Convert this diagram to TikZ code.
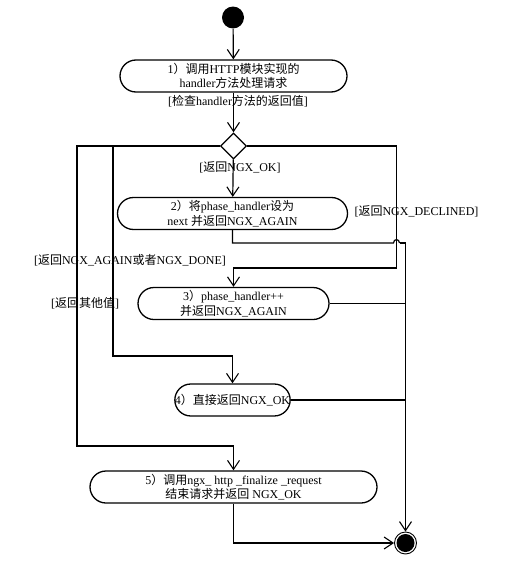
\documentclass[tikz,border=0pt]{standalone}
\usepackage{fontspec}
\setmainfont{Liberation Serif}
\newfontfamily\cjk{Noto Sans CJK SC}
\newcommand\zh[1]{{\cjk #1}}
\usetikzlibrary{arrows.meta,shapes.geometric}
\tikzset{
  act/.style={draw, line width=1.3pt, rectangle, rounded corners=16pt, minimum height=32pt, inner sep=0pt, align=center, font=\fontsize{12}{14.5}\selectfont},
  lbl/.style={inner sep=0pt, font=\fontsize{12}{14}\selectfont},
  arr/.style={-{Straight Barb[length=9pt,width=12pt,line width=1.1pt]}},
  ln/.style={line width=1.2pt},
}
\begin{document}
\begin{tikzpicture}[x=1pt,y=-1pt, ln]
\useasboundingbox[fill=white] (0,0) rectangle (515,570);
% nodes
\node[circle, fill=black, minimum size=22pt, inner sep=0pt] (start) at (233,17.5) {};
\node[act, minimum width=227pt] (b1) at (233.5,76) {1\zh{）调用}HTTP\zh{模块实现的}\\handler\zh{方法处理请求}};
\node[draw, line width=1.3pt, diamond, aspect=1, minimum width=26pt, minimum height=26pt, inner sep=0pt] (d) at (233.5,146) {};
\node[act, minimum width=230pt] (b2) at (232.5,213.5) {2\zh{）将}phase\_handler\zh{设为}\\next \zh{并返回}NGX\_AGAIN};
\node[act, minimum width=191pt] (b3) at (233.5,303.5) {3\zh{）}phase\_handler++\\\zh{并返回}NGX\_AGAIN};
\node[act, minimum width=110pt] (b4) at (232.5,400) {4\zh{）直接返回}NGX\_OK};
\node[act, minimum width=287pt] (b5) at (233.5,487) {5\zh{）调用}ngx\_ http \_finalize \_request\\\zh{结束请求并返回} NGX\_OK};
\node[circle, draw, line width=0.9pt, minimum size=22pt, inner sep=0pt] (endc) at (405.5,543) {};
\fill (endc.center) circle (9);
% labels
\node[lbl] (l1) at (238,101) {[\zh{检查}handler\zh{方法的返回值}]};
\node[lbl] (l2) at (240,167) {[\zh{返回}NGX\_OK]};
\node[lbl] (l3) at (416.5,211) {[\zh{返回}NGX\_DECLINED]};
\node[lbl] (l4) at (130,260) {[\zh{返回}NGX\_AGAIN\zh{或者}NGX\_DONE]};
\node[lbl] (l5) at (85,303) {[\zh{返回其他值}]};
% coordinates
\coordinate (J2) at (113,146);
\coordinate (L5) at (77,446);
\coordinate (L4) at (113,356);
\coordinate (R3) at (396.5,268);
\coordinate (hopL) at (393.5,243);
\coordinate (hopR) at (399.5,243);
% connectors
\draw[arr] (start) -- (b1);
\draw[arr] (b1) -- (d);
\draw[arr] (d) -- (b2);
\draw[arr] (d.west) -| (L5) -| (b5.north);
\draw[arr] (J2) -- (L4) -| (b4.north);
\draw[arr] (d.east) -| (R3) -| (b3.north);
\draw (b2.south) |- (hopL) .. controls (393.5,238.5) and (399.5,238.5) .. (hopR);
\draw[arr] (hopR) -| (endc.north);
\draw (b3.east) -- (b3.east -| endc);
\draw (b4.east) -- (b4.east -| endc);
\draw[arr] (b5.south) |- (endc.west);
\end{tikzpicture}
\end{document}
